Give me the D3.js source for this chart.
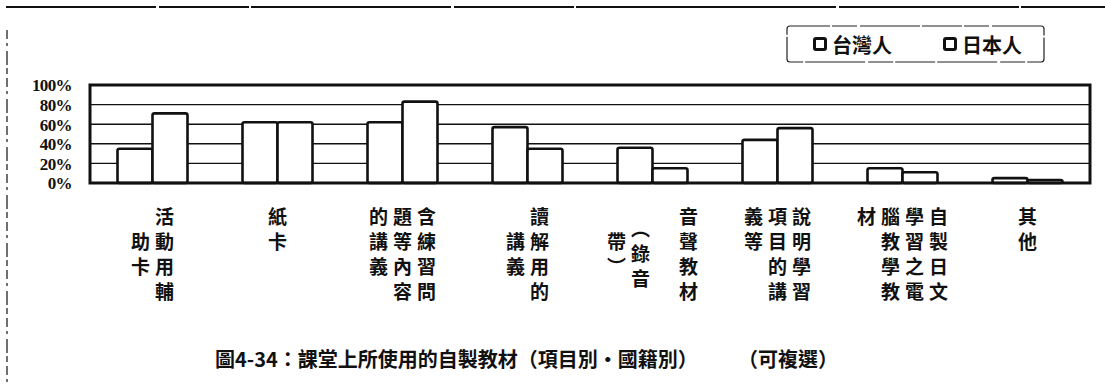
<!DOCTYPE html>
<html>
  <head>
    <meta charset="utf-8">
    <title>自製教材</title>
    <style>
      body {
        margin: 0;
        background-color: white;
      }
      svg {
        display: block;
      }
      .cjk {
        font-family: "Noto Sans CJK TC", "Noto Sans CJK SC", sans-serif;
      }
    </style>
  </head>
  <body>
    <div id="chart"></div>

    <script src="https://d3js.org/d3.v7.min.js"></script>
    <script>
    // category labels, written as vertical columns (right to left)
    // "　" keeps an empty row, " " half a row
    var categories = [
      ["活動用輔", "　助卡"],
      ["紙卡"],
      ["含練習問", "題等內容", "的講義"],
      ["讀解用的", "　講義"],
      ["音聲教材", "", " ︵錄音", "　帶︶"],
      ["說明學習", "項目的講", "義等"],
      ["自製日文", "學習之電", "腦教學教", "材"],
      ["其他"]
    ];
    var seriesNames = ["台灣人", "日本人"];
    var taiwanValues = [0.35, 0.62, 0.62, 0.57, 0.36, 0.44, 0.15, 0.05];
    var japanValues  = [0.71, 0.62, 0.83, 0.35, 0.15, 0.56, 0.11, 0.03];
    var yTicks = [0, 0.2, 0.4, 0.6, 0.8, 1];
    var titleMain = "圖4-34：課堂上所使用的自製教材（項目別・國籍別）";
    var titleNote = "（可複選）";

    var width = 1105;
    var height = 385;
    var plot = {left: 90, right: 1090, top: 85, bottom: 183};

    var svg = d3.select("#chart").append("svg")
      .attr("width", width)
      .attr("height", height);

    svg.append("rect")
      .attr("width", width)
      .attr("height", height)
      .attr("fill", "white");

    // page frame left over from the scan
    svg.append("line")
      .attr("x1", 6).attr("x2", width).attr("y1", 7).attr("y2", 7)
      .attr("stroke", "#111").attr("stroke-width", 1.8)
      .attr("stroke-dasharray", "150 3 90 2 200 3 120 2 260 3 180 2");
    svg.append("line")
      .attr("x1", 7).attr("x2", 7).attr("y1", 30).attr("y2", height)
      .attr("stroke", "#111").attr("stroke-width", 1.2)
      .attr("stroke-dasharray", "9 4 3 5 14 3 6 4");

    var x0 = d3.scaleBand()
      .domain(d3.range(categories.length))
      .range([plot.left, plot.right])
      .paddingInner(0.44)
      .paddingOuter(0.22);

    var x1 = d3.scaleBand()
      .domain([0, 1])
      .range([0, x0.bandwidth()]);

    var y = d3.scaleLinear()
      .domain([0, 1])
      .range([plot.bottom, plot.top]);

    // grid lines
    svg.append("g")
      .selectAll("line")
      .data(yTicks.filter(function(d) { return d > 0 && d < 1; }))
      .enter()
      .append("line")
      .attr("x1", plot.left).attr("x2", plot.right)
      .attr("y1", function(d) { return y(d); })
      .attr("y2", function(d) { return y(d); })
      .attr("stroke", "#111")
      .attr("stroke-width", 1.4);

    // y axis labels
    var yAxis = d3.axisLeft(y)
      .tickValues(yTicks)
      .tickSize(0)
      .tickPadding(18)
      .tickFormat(function(d) { return Math.round(d * 100) + "%"; });

    var yg = svg.append("g")
      .attr("transform", "translate(" + plot.left + ",0)")
      .call(yAxis);
    yg.select(".domain").remove();
    yg.selectAll("text")
      .attr("font-family", "'Liberation Serif', serif")
      .attr("font-size", 17)
      .attr("letter-spacing", -0.6)
      .attr("font-weight", "bold")
      .attr("fill", "#111")
      .attr("dy", "0.35em");

    // bars
    var groups = svg.append("g")
      .selectAll("g")
      .data(categories.map(function(c, i) { return [taiwanValues[i], japanValues[i]]; }))
      .enter()
      .append("g")
      .attr("transform", function(d, i) { return "translate(" + x0(i) + ",0)"; });

    groups.selectAll("rect")
      .data(function(d) { return d; })
      .enter()
      .append("rect")
      .attr("x", function(d, j) { return x1(j); })
      .attr("y", function(d) { return y(d); })
      .attr("width", x1.bandwidth())
      .attr("height", function(d) { return y(0) - y(d); })
      .attr("rx", 2)
      .attr("fill", "white")
      .attr("stroke", "#111")
      .attr("stroke-width", 2.6);

    // plot frame
    svg.append("rect")
      .attr("x", plot.left)
      .attr("y", plot.top)
      .attr("width", plot.right - plot.left)
      .attr("height", plot.bottom - plot.top)
      .attr("fill", "none")
      .attr("stroke", "#111")
      .attr("stroke-width", 3);

    // vertical category labels
    var colPitch = 24;
    var rowPitch = 25;
    var firstRow = 215;

    categories.forEach(function(cols, i) {
      var cx = x0(i) + x0.bandwidth() / 2;
      var rightX = cx + (cols.length - 1) * colPitch / 2;
      cols.forEach(function(col, c) {
        var colX = rightX - c * colPitch;
        var row = 0;
        Array.from(col).forEach(function(ch) {
          if (ch === " ") { row += 0.5; return; }
          if (ch !== "　") {
            svg.append("text")
              .attr("class", "cjk")
              .attr("x", colX)
              .attr("y", firstRow + row * rowPitch)
              .attr("text-anchor", "middle")
              .attr("dominant-baseline", "central")
              .attr("font-size", 19)
              .attr("font-weight", "bold")
              .attr("fill", "#111")
              .text(ch);
          }
          row += 1;
        });
      });
    });

    // legend
    var legend = svg.append("g");
    legend.append("rect")
      .attr("x", 787).attr("y", 26)
      .attr("width", 257).attr("height", 36)
      .attr("rx", 3)
      .attr("fill", "none")
      .attr("stroke", "#222")
      .attr("stroke-width", 1.2)
      .attr("stroke-dasharray", "40 2 25 3 60 2");

    var items = legend.selectAll("g.item")
      .data(seriesNames)
      .enter()
      .append("g")
      .attr("class", "item")
      .attr("transform", function(d, i) { return "translate(" + (813 + i * 130) + ",44)"; });

    items.append("rect")
      .attr("x", 1.5).attr("y", -5.5)
      .attr("width", 11).attr("height", 11)
      .attr("rx", 1.5)
      .attr("fill", "white")
      .attr("stroke", "#111")
      .attr("stroke-width", 3);

    items.append("text")
      .attr("class", "cjk")
      .attr("x", 19)
      .attr("y", 0)
      .attr("dominant-baseline", "central")
      .attr("font-size", 20)
      .attr("font-weight", "bold")
      .attr("fill", "#111")
      .text(function(d) { return d; });

    // caption
    svg.append("text")
      .attr("class", "cjk")
      .attr("x", 215)
      .attr("y", 358)
      .attr("dominant-baseline", "central")
      .attr("font-size", 20)
      .attr("font-weight", "bold")
      .attr("fill", "#111")
      .text(titleMain);

    svg.append("text")
      .attr("class", "cjk")
      .attr("x", 738)
      .attr("y", 358)
      .attr("dominant-baseline", "central")
      .attr("font-size", 20)
      .attr("font-weight", "bold")
      .attr("fill", "#111")
      .text(titleNote);
    </script>
  </body>
</html>
